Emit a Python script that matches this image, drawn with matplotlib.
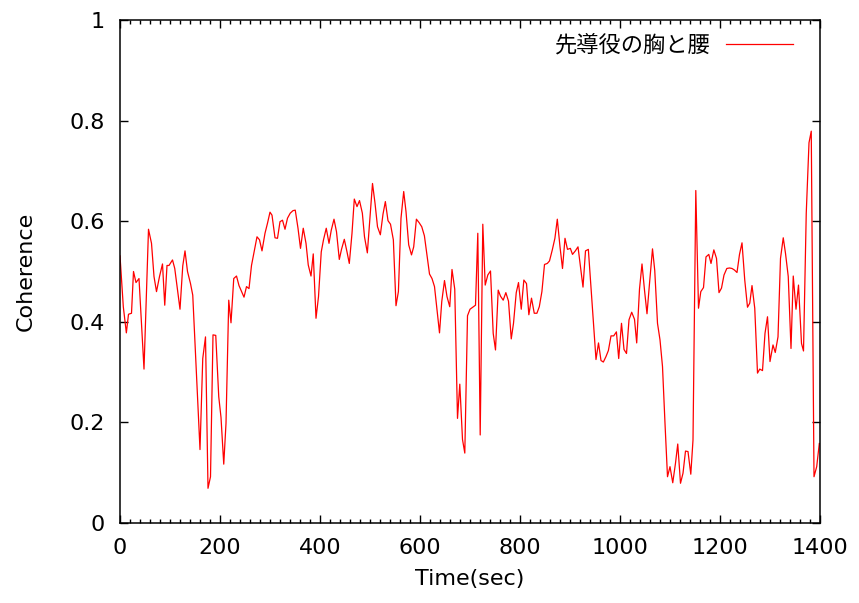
import numpy as np
from matplotlib import pyplot as plt
from matplotlib.ticker import MultipleLocator

plt.rcParams['font.family'] = ['DejaVu Sans', 'Noto Sans CJK JP']

# values
time_sec = [
    0, 6.6, 12.7, 17, 23, 27, 32, 38, 48, 57, 63, 68, 73, 79, 85, 89.5, 94, 98,
    105, 109.5, 120, 125.5, 130, 135, 141, 145.5, 160, 165.5, 171, 176, 181, 186,
    191.5, 197.5, 202, 207.5, 212, 217.5, 222, 227.5, 233, 238,
    248, 253, 258, 263, 274, 279, 284, 290, 295, 300, 304, 310, 315, 320, 325,
    330, 335, 340.5, 346, 350.5, 356, 361, 366.5, 372, 376.5, 382, 386.5, 392,
    397, 402.5, 407, 412.5, 418, 422.5, 428, 433, 438.6, 443, 448.6, 454, 458.6,
    464, 468.6, 474, 479, 484.7, 489, 494.7, 500, 505, 510, 515, 520.7, 526,
    530.7, 536, 541, 546.7, 552, 556.8, 562, 567.4, 572, 577.4, 583, 587.4,
    592.8, 598.3, 603.5, 608.8, 613.5, 619, 624, 629, 634, 639, 643.5, 649, 654,
    659.5, 664, 669.5, 675, 679.6, 685, 689.6, 695, 700, 705.6, 711, 715.6,
    720.4, 725.6, 730.4, 735.6, 741, 746.4, 751, 756.4, 761, 766.4, 771.7, 777,
    782.5, 787, 792.5, 797, 802.5, 807.7, 813, 817.7, 823, 828.5, 833.8, 838.6,
    843.8, 849, 854.6, 859, 864.6, 869.8, 874.6, 880, 885, 890, 895, 900.7, 905,
    910.7, 916, 926, 931, 936.7, 952, 957, 962, 966.7, 972, 976.8, 982, 987.4,
    992.8, 997.4, 1003, 1008, 1013, 1018, 1023.4, 1029, 1033.4, 1039, 1044,
    1049, 1054, 1059, 1065, 1069.5, 1075, 1080, 1085, 1090, 1095, 1100, 1105.5,
    1111, 1115.5, 1121, 1126, 1131, 1136, 1141.6, 1146, 1151.6, 1157, 1161.6,
    1167, 1172, 1177.6, 1182, 1187.7, 1193, 1198, 1203, 1208, 1213.6, 1219,
    1224, 1228.8, 1234, 1239, 1244, 1249.5, 1255, 1259.5, 1264, 1269.5, 1275,
    1279.5, 1285, 1290, 1295, 1300, 1306, 1310.5, 1316, 1321, 1326.5, 1331,
    1336.5, 1342, 1346.5, 1352, 1357, 1363, 1367, 1372.5, 1378, 1382.5, 1388,
    1393.4, 1398.6,
]
coherence = [
    0.531, 0.43, 0.378, 0.415, 0.417, 0.50, 0.478, 0.486, 0.306, 0.584, 0.556,
    0.49, 0.46, 0.49, 0.515, 0.433, 0.512, 0.512, 0.523, 0.506, 0.425, 0.511,
    0.541, 0.50, 0.476, 0.453, 0.146, 0.327, 0.37, 0.069, 0.092, 0.374, 0.373,
    0.251, 0.21, 0.117, 0.198, 0.443, 0.398, 0.486, 0.491, 0.472,
    0.449, 0.47, 0.466, 0.512, 0.569, 0.563, 0.541, 0.576, 0.596, 0.618, 0.612,
    0.567, 0.566, 0.599, 0.602, 0.584, 0.606, 0.616, 0.621, 0.622, 0.586, 0.546,
    0.586, 0.556, 0.513, 0.491, 0.535, 0.407, 0.45, 0.539, 0.563, 0.586, 0.556,
    0.582, 0.604, 0.579, 0.524, 0.544, 0.564, 0.539, 0.516, 0.576, 0.644, 0.629,
    0.641, 0.616, 0.569, 0.537, 0.609, 0.675, 0.636, 0.589, 0.573, 0.614, 0.639,
    0.601, 0.594, 0.563, 0.432, 0.46, 0.606, 0.659, 0.619, 0.553, 0.533, 0.549,
    0.604, 0.597, 0.589, 0.571, 0.536, 0.495, 0.486, 0.47, 0.423, 0.378, 0.44,
    0.482, 0.45, 0.43, 0.504, 0.465, 0.208, 0.276, 0.166, 0.139, 0.412, 0.425,
    0.429, 0.433, 0.576, 0.175, 0.594, 0.473, 0.493, 0.501, 0.377, 0.344, 0.463,
    0.451, 0.443, 0.458, 0.441, 0.366, 0.397, 0.458, 0.478, 0.425, 0.483, 0.476,
    0.414, 0.447, 0.417, 0.417, 0.43, 0.46, 0.514, 0.516, 0.521, 0.543, 0.566,
    0.604, 0.549, 0.506, 0.566, 0.544, 0.546, 0.534, 0.541, 0.549, 0.469, 0.541,
    0.544, 0.325, 0.358, 0.323, 0.32, 0.331, 0.343, 0.372, 0.372, 0.38, 0.327,
    0.397, 0.345, 0.337, 0.404, 0.419, 0.405, 0.358, 0.465, 0.515, 0.463, 0.416,
    0.476, 0.545, 0.502, 0.397, 0.364, 0.311, 0.198, 0.092, 0.112, 0.08, 0.119,
    0.157, 0.079, 0.099, 0.143, 0.142, 0.097, 0.165, 0.661, 0.427, 0.46, 0.468,
    0.529, 0.534, 0.516, 0.543, 0.526, 0.458, 0.467, 0.493, 0.506, 0.507, 0.506,
    0.503, 0.498, 0.534, 0.557, 0.483, 0.429, 0.437, 0.472, 0.427, 0.298, 0.306,
    0.303, 0.377, 0.41, 0.321, 0.354, 0.339, 0.37, 0.526, 0.567, 0.536, 0.49,
    0.347, 0.491, 0.425, 0.473, 0.357, 0.342, 0.616, 0.756, 0.779, 0.092, 0.112,
    0.158,
]
series_label = '先導役の胸と腰'
x_ticks = [0, 200, 400, 600, 800, 1000, 1200, 1400]
y_ticks = [0, 0.2, 0.4, 0.6, 0.8, 1]
y_tick_labels = ['0', '0.2', '0.4', '0.6', '0.8', '1']

fig = plt.figure(figsize=(8.59, 6.03), dpi=100)
ax = fig.add_axes([120 / 859, 1 - 523 / 603, 700 / 859, 503 / 603])

ax.plot(time_sec, coherence, color='red', lw=0.9, label=series_label)

ax.set_xlim(0, 1400)
ax.set_ylim(0, 1)
ax.set_xticks(x_ticks)
ax.set_yticks(y_ticks)
ax.set_yticklabels(y_tick_labels)
ax.xaxis.set_minor_locator(MultipleLocator(20))

ax.tick_params(which='both', direction='in', top=True, right=True,
               labelsize=16, pad=11, width=1, color='black')
ax.tick_params(which='major', length=6)
ax.tick_params(which='minor', length=3)
for s in ax.spines.values():
    s.set_linewidth(1.1)

ax.set_xlabel('Time(sec)', fontsize=16, labelpad=8)
ax.set_ylabel('Coherence', fontsize=16, labelpad=24)

ax.legend(loc='upper right', frameon=False, markerfirst=False,
          prop={'family': ['Noto Sans CJK JP', 'DejaVu Sans'], 'size': 16},
          handlelength=3.0, borderaxespad=0.2, handletextpad=0.7,
          bbox_to_anchor=(0.98, 1.0))

plt.savefig('out.png', dpi=100)
plt.close(fig)
